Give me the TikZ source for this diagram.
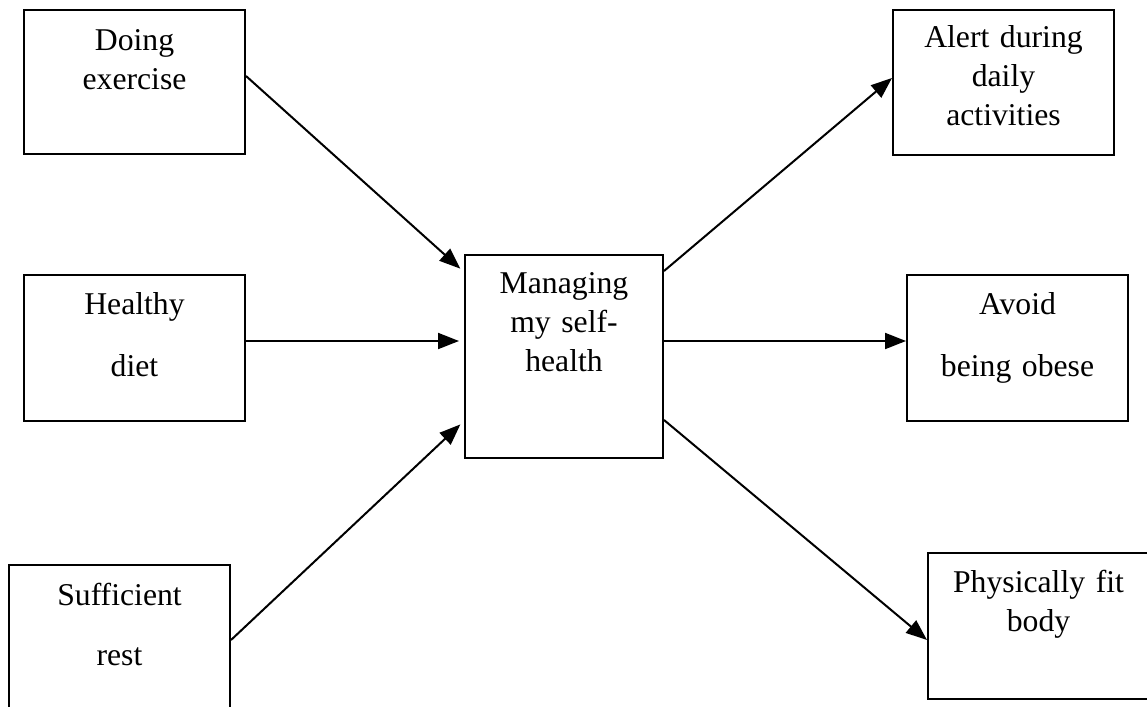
\documentclass[tikz,border=0pt]{standalone}
\usepackage{fontspec}
\setmainfont{Liberation Serif}
\usetikzlibrary{arrows.meta}

\begin{document}
\begin{tikzpicture}[x=1pt, y=-1pt, font=\fontsize{31.7}{39}\selectfont]
    % Define styles
    \tikzset{
        cause/.style={rectangle, draw, line width=2pt, inner sep=0pt, anchor=north west, text width=221pt, align=center},
        hub/.style={cause, text width=198pt},
        arrow/.style={->, >={Triangle[length=21pt, width=16pt]}, line width=2pt},
    }

    \useasboundingbox (0,0) rectangle (1147,706);

    % Causes
    \node[cause, text height=41pt, text depth=103pt] (exercise) at (23,9) {Doing\\exercise};
    \node[cause, text height=39pt, text depth=107pt] (diet) at (23,274) {Healthy\\[23pt]diet};
    \node[cause, text height=40pt, text depth=110pt] (rest) at (8,564) {Sufficient\\[21pt]rest};

    % Centre
    \node[hub, text height=38pt, text depth=165pt] (self) at (464,254) {Managing\\my self-\\health};

    % Outcomes
    \node[cause, text height=38pt, text depth=107pt] (alert) at (892,9) {Alert during\\daily\\activities};
    \node[cause, text height=39pt, text depth=107pt] (avoid) at (906,274) {Avoid\\[23pt]being obese};
    \node[cause, text height=39pt, text depth=107pt] (fit) at (927,552) {Physically fit\\body};

    % Arrows
    \draw[arrow, shorten >=5pt] ([yshift=6pt]exercise.east) -- ([yshift=84.5pt]self.west);
    \draw[arrow, shorten >=5pt] ([yshift=7pt]diet.east) -- ([yshift=7pt]diet.east -| self.west);
    \draw[arrow, shorten >=5pt] (rest.east) -- ([yshift=-64.5pt]self.west);
    \draw[arrow] ([yshift=85.5pt]self.east) -- ([yshift=4.5pt]alert.west);
    \draw[arrow] ([yshift=7pt]avoid.west -| self.east) -- ([yshift=7pt]avoid.west);
    \draw[arrow] ([yshift=-63.5pt]self.east) -- ([yshift=-14pt]fit.west);
\end{tikzpicture}
\end{document}
